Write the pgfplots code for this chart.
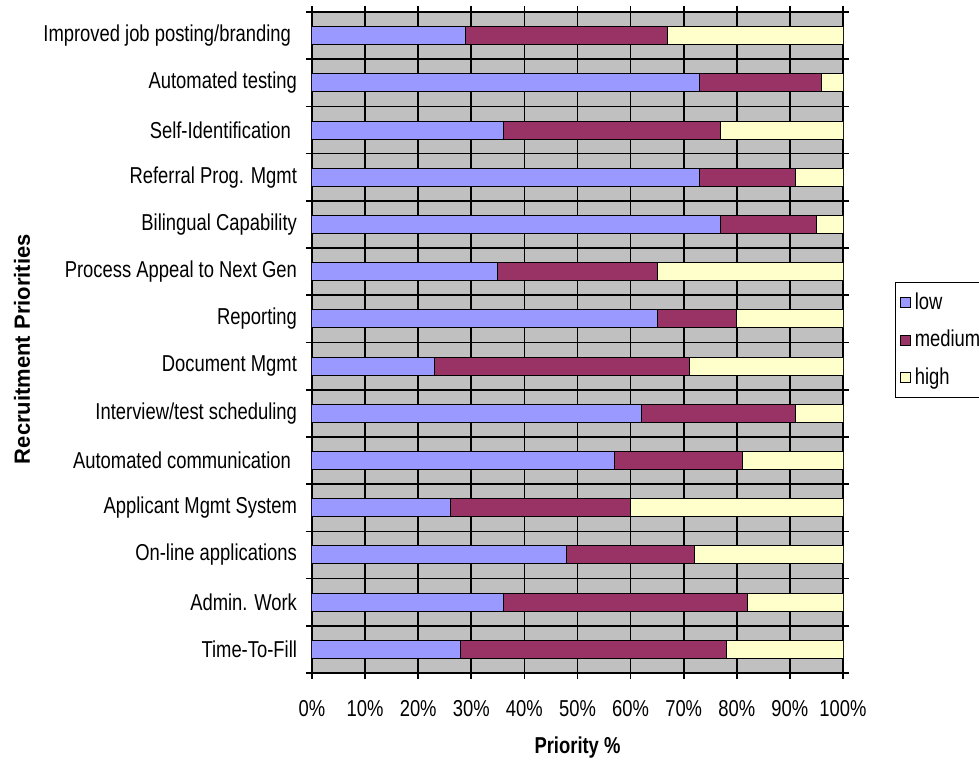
\documentclass[border=0pt]{standalone}
\usepackage{fontspec}
\setmainfont{Liberation Sans}[FakeStretch=0.8]
\newfontfamily\widefont{Liberation Sans}
\usepackage{pgfplots}
\pgfplotsset{compat=1.18}
\definecolor{clow}{HTML}{9999FF}
\definecolor{cmed}{HTML}{993366}
\definecolor{chigh}{HTML}{FFFFCC}
\definecolor{cbg}{HTML}{C0C0C0}

\begin{document}
\begin{tikzpicture}
\useasboundingbox (-156pt,-43.5pt) rectangle (333.5pt,336.5pt);
\begin{axis}[
  at={(0,0)}, anchor=south west,
  scale only axis, width=265.5pt, height=330.5pt,
  xbar stacked, bar width=0.38,
  xmin=0, xmax=100, ymin=0.5, ymax=14.5,
  axis background/.style={fill=cbg},
  axis line style={line width=0.8pt},
  xtick={0,10,...,100},
  xticklabels={0\%,10\%,20\%,30\%,40\%,50\%,60\%,70\%,80\%,90\%,100\%},
  ytick={0.5,1.5,...,14.5}, yticklabels={},
  extra y ticks={1,...,14},
  extra y tick labels={Time-To-Fill,Admin. Work,On-line applications,Applicant Mgmt System,Automated communication\kern3pt,Interview/test scheduling,Document Mgmt,Reporting,Process Appeal to Next Gen,Bilingual Capability,Referral Prog. Mgmt,Self-Identification\kern3pt,Automated testing,Improved job posting/branding\kern3pt},
  extra y tick style={major tick length=0pt, grid=none},
  xmajorgrids, ymajorgrids,
  grid style={black, line width=0.8pt},
  tick align=outside, major tick length=3pt,
  tick style={black, line width=0.8pt},
  tick label style={font=\fontsize{11.5}{13}\selectfont},
  xticklabel style={yshift=-7pt},
  yticklabel style={xshift=-4pt},
  /pgf/number format/assume math mode=true,
  xlabel={\textbf{Priority \%}},
  xlabel style={at={(axis description cs:0.5,0)}, anchor=center, yshift=-37.5pt, font=\fontsize{11.5}{13}\selectfont},
  ylabel={\textbf{Recruitment Priorities}},
  ylabel style={at={(axis description cs:-0.546,0.49)}, anchor=center, rotate=0, font=\fontsize{11}{13}\selectfont\widefont},
  legend cell align=left,
  legend style={at={(rel axis cs:1.098,0.5915)}, anchor=north west, draw=black, line width=0.6pt, fill=white,
    font=\fontsize{11.5}{13}\selectfont, row sep=5pt, inner xsep=2pt, inner ysep=3pt},
  legend image code/.code={\draw[#1, line width=0.6pt] (0pt,-2.5pt) rectangle (5pt,2.5pt);},
  every axis plot/.append style={draw=black, line width=0.5pt},
]
\addplot[fill=clow] coordinates {
(28,1) (36,2) (48,3) (26,4) (57,5) (62,6) (23,7) (65,8) (35,9) (77,10) (73,11) (36,12) (73,13) (29,14)};
\addplot[fill=cmed] coordinates {
(50,1) (46,2) (24,3) (34,4) (24,5) (29,6) (48,7) (15,8) (30,9) (18,10) (18,11) (41,12) (23,13) (38,14)};
\addplot[fill=chigh] coordinates {
(22,1) (18,2) (28,3) (40,4) (19,5) (9,6) (29,7) (20,8) (35,9) (5,10) (9,11) (23,12) (4,13) (33,14)};
\legend{low,medium,high}
\end{axis}
\end{tikzpicture}
\end{document}
